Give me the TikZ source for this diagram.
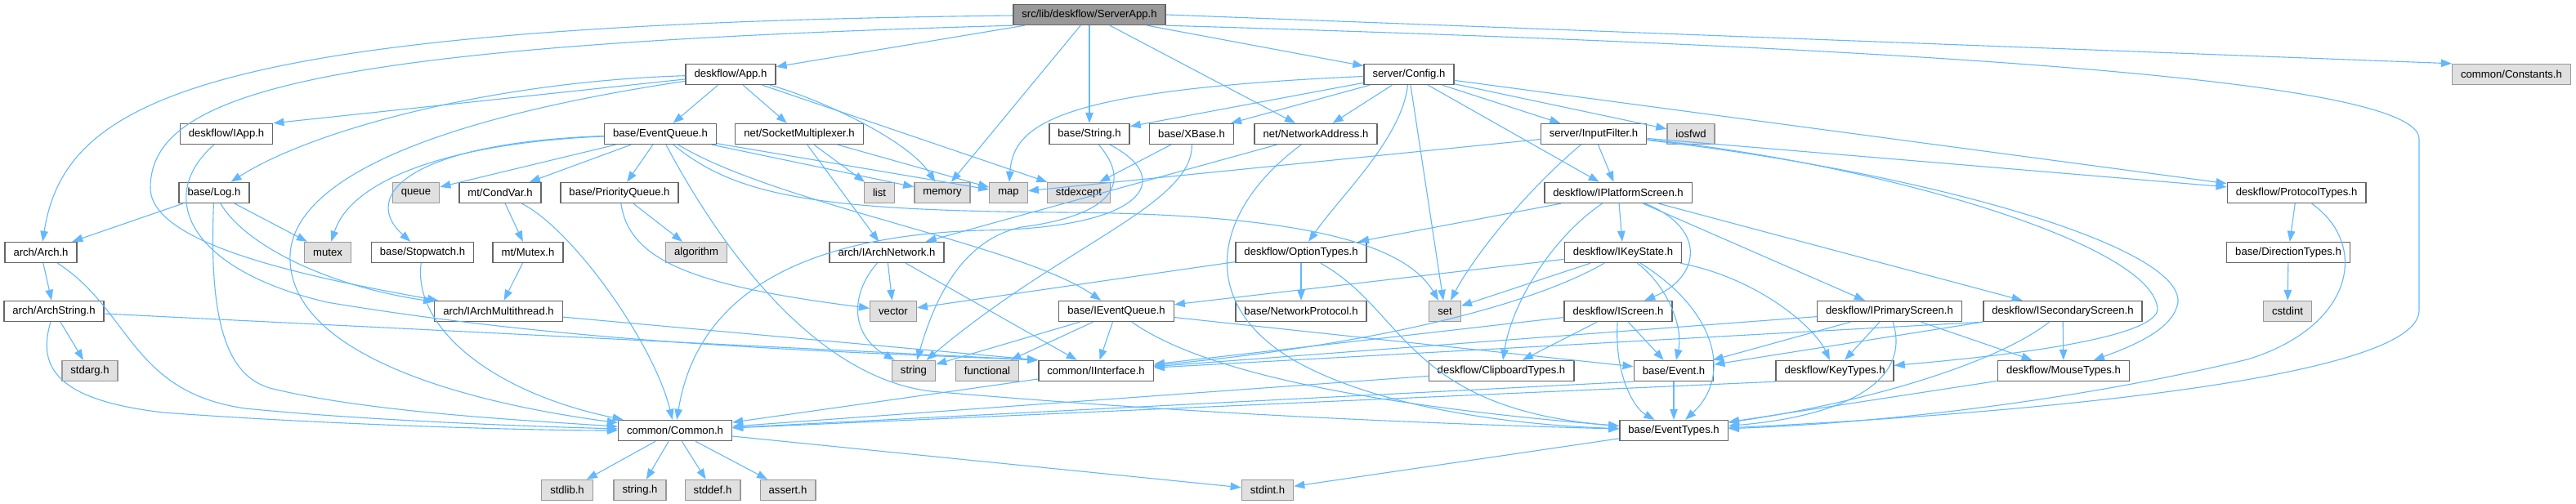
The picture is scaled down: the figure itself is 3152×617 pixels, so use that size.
\documentclass[tikz,border=0pt]{standalone}
\usepackage{fontspec}
\setmainfont{Liberation Sans}
\usetikzlibrary{arrows.meta}
\definecolor{edgeblue}{HTML}{63B8FF}
\definecolor{boxline}{HTML}{666666}
\definecolor{sysline}{HTML}{999999}
\definecolor{sysfill}{HTML}{E0E0E0}
\definecolor{rootfill}{HTML}{999999}
\tikzset{
  filebox/.style={draw=boxline, line width=1.4pt, fill=white, minimum height=25pt,
    inner xsep=10.5pt, inner ysep=0pt, font=\fontsize{13.1}{15}\selectfont},
  sysbox/.style={filebox, draw=sysline, fill=sysfill},
  rootbox/.style={filebox, fill=rootfill},
  incarrow/.style={draw=edgeblue, line width=1.1pt, -{Triangle[length=13pt,width=9.5pt]}}
}
\begin{document}
\begin{tikzpicture}[x=1pt,y=-1pt]
  \useasboundingbox (0,0) rectangle (3152,617);

  % Root and first level
  \node[rootbox] (serverapp) at (1333,18) {src/lib/deskflow/ServerApp.h};
  \node[filebox] (app) at (894,91) {deskflow/App.h};
  \node[filebox] (config) at (1724,91) {server/Config.h};
  \node[sysbox] (constants) at (3073,91) {common/Constants.h};

  % Row 2
  \node[filebox] (iapp) at (277,164) {deskflow/IApp.h};
  \node[filebox] (eventqueue) at (808,164) {base/EventQueue.h};
  \node[filebox] (socketmux) at (978,164) {net/SocketMultiplexer.h};
  \node[filebox] (strh) at (1333,164) {base/String.h};
  \node[filebox] (xbase) at (1458,164) {base/XBase.h};
  \node[filebox] (netaddr) at (1610,164) {net/NetworkAddress.h};
  \node[filebox] (inputfilter) at (1950,164) {server/InputFilter.h};
  \node[sysbox] (iosfwd) at (2069,164) {iosfwd};

  % Row 3
  \node[filebox] (log) at (262,236) {base/Log.h};
  \node[sysbox] (queue) at (509,236) {queue};
  \node[filebox] (condvar) at (612,236) {mt/CondVar.h};
  \node[filebox] (prioqueue) at (758,236) {base/PriorityQueue.h};
  \node[sysbox] (list) at (1076,236) {list};
  \node[sysbox] (memory) at (1153,236) {memory};
  \node[sysbox] (map) at (1234,236) {map};
  \node[sysbox] (stdexcept) at (1320,236) {stdexcept};
  \node[filebox] (iplatform) at (1980,236) {deskflow/IPlatformScreen.h};
  \node[filebox] (protocol) at (2810,236) {deskflow/ProtocolTypes.h};

  % Row 4
  \node[filebox] (arch) at (50,309) {arch/Arch.h};
  \node[sysbox] (mutex) at (401,309) {mutex};
  \node[filebox] (stopwatch) at (517,309) {base/Stopwatch.h};
  \node[filebox] (mtmutex) at (646,309) {mt/Mutex.h};
  \node[sysbox] (algorithm) at (852,309) {algorithm};
  \node[filebox] (iarchnet) at (1085,309) {arch/IArchNetwork.h};
  \node[filebox] (optiontypes) at (1592,309) {deskflow/OptionTypes.h};
  \node[filebox] (ikeystate) at (1986,309) {deskflow/IKeyState.h};
  \node[filebox] (direction) at (2800,309) {base/DirectionTypes.h};

  % Row 5
  \node[filebox] (archstring) at (66,381) {arch/ArchString.h};
  \node[filebox] (iarchmt) at (610,381) {arch/IArchMultithread.h};
  \node[sysbox] (vector) at (1093,381) {vector};
  \node[filebox] (ieventqueue) at (1366,381) {base/IEventQueue.h};
  \node[filebox] (netproto) at (1592,381) {base/NetworkProtocol.h};
  \node[sysbox] (set) at (1768,381) {set};
  \node[filebox] (iscreen) at (1980,381) {deskflow/IScreen.h};
  \node[filebox] (iprimary) at (2312,381) {deskflow/IPrimaryScreen.h};
  \node[filebox] (isecondary) at (2524,381) {deskflow/ISecondaryScreen.h};
  \node[sysbox] (cstdint) at (2799,381) {cstdint};

  % Row 6
  \node[sysbox] (stdarg) at (110,454) {stdarg.h};
  \node[sysbox] (stdstr) at (1118,454) {string};
  \node[sysbox] (functional) at (1208,454) {functional};
  \node[filebox] (iinterface) at (1341,454) {common/IInterface.h};
  \node[filebox] (clipboard) at (1837,454) {deskflow/ClipboardTypes.h};
  \node[filebox] (event) at (2048,454) {base/Event.h};
  \node[filebox] (keytypes) at (2245,454) {deskflow/KeyTypes.h};
  \node[filebox] (mousetypes) at (2525,454) {deskflow/MouseTypes.h};

  % Rows 7 and 8
  \node[filebox] (common) at (826,527) {common/Common.h};
  \node[filebox] (eventtypes) at (2048,527) {base/EventTypes.h};
  \node[sysbox] (stdlib) at (694,600) {stdlib.h};
  \node[sysbox] (stringh) at (783,600) {string.h};
  \node[sysbox] (stddef) at (872,600) {stddef.h};
  \node[sysbox] (asserth) at (964,600) {assert.h};
  \node[sysbox] (stdint) at (1551,600) {stdint.h};

  % ServerApp.h includes
  \draw[incarrow] (serverapp) .. controls (250,30) and (80,120) .. (arch);
  \draw[incarrow] (serverapp.south west) .. controls (400,55) and (184,110) .. (184,230)
    .. controls (184,300) and (380,340) .. (iarchmt);
  \draw[incarrow] (serverapp) -- (app);
  \draw[incarrow] (serverapp) -- (memory);
  \draw[incarrow] (serverapp) -- (strh);
  \draw[incarrow] (serverapp) -- (netaddr);
  \draw[incarrow] (serverapp) -- (config);
  \draw[incarrow] (serverapp.east) -- (constants.north west);
  \draw[incarrow] (serverapp.south east) .. controls (2400,60) and (2960,100) .. (2960,170)
    -- (2960,380) .. controls (2960,470) and (2400,510) .. (eventtypes);

  % App.h and IApp.h
  \draw[incarrow] (app) -- (iapp.north east);
  \draw[incarrow] (app) .. controls (600,100) and (380,160) .. (log);
  \draw[incarrow] (app) .. controls (500,150) and (350,230) .. (355,320)
    .. controls (360,430) and (550,490) .. (common);
  \draw[incarrow] (app) -- (eventqueue);
  \draw[incarrow] (app) -- (socketmux);
  \draw[incarrow] (app) .. controls (1000,120) and (1110,170) .. (memory);
  \draw[incarrow] (app) -- (stdexcept);
  \draw[incarrow] (iapp) .. controls (190,240) and (230,330) .. (400,370)
    .. controls (700,420) and (1000,430) .. (iinterface.north west);

  % Log.h, Arch.h, ArchString.h
  \draw[incarrow] (log) -- (arch);
  \draw[incarrow] (log) -- (mutex);
  \draw[incarrow] (log) .. controls (255,400) and (280,460) .. (330,475)
    .. controls (450,505) and (650,515) .. (common);
  \draw[incarrow] (log) .. controls (300,300) and (400,350) .. (iarchmt);
  \draw[incarrow] (arch) -- (archstring);
  \draw[incarrow] (arch) .. controls (160,380) and (160,480) .. (300,500)
    .. controls (450,515) and (650,522) .. (common);
  \draw[incarrow] (archstring) -- (stdarg);
  \draw[incarrow] (archstring) .. controls (45,450) and (70,490) .. (200,505)
    .. controls (400,520) and (650,527) .. (common);
  \draw[incarrow] (archstring) -- (iinterface.north west);

  % EventQueue.h
  \draw[incarrow] (eventqueue) .. controls (550,175) and (430,220) .. (mutex);
  \draw[incarrow] (eventqueue) .. controls (500,175) and (440,240) .. (stopwatch);
  \draw[incarrow] (eventqueue) -- (queue);
  \draw[incarrow] (eventqueue) -- (condvar);
  \draw[incarrow] (eventqueue) -- (prioqueue);
  \draw[incarrow] (eventqueue) -- (memory);
  \draw[incarrow] (eventqueue) -- (map);
  \draw[incarrow] (eventqueue) .. controls (900,240) and (1000,258) .. (1300,260)
    .. controls (1600,262) and (1720,300) .. (set);
  \draw[incarrow] (eventqueue) .. controls (950,250) and (1250,300) .. (ieventqueue);
  \draw[incarrow] (eventqueue) .. controls (880,300) and (1000,470) .. (1150,480)
    .. controls (1500,510) and (1800,520) .. (eventtypes);

  % SocketMultiplexer.h, String.h, XBase.h, NetworkAddress.h
  \draw[incarrow] (socketmux) -- (list);
  \draw[incarrow] (socketmux) -- (map);
  \draw[incarrow] (socketmux) -- (iarchnet);
  \draw[incarrow] (strh) .. controls (1390,230) and (1350,265) .. (1250,278)
    .. controls (1170,295) and (1140,380) .. (stdstr);
  \draw[incarrow] (strh) .. controls (1440,220) and (1400,280) .. (1200,282)
    .. controls (950,290) and (850,380) .. (common);
  \draw[incarrow] (xbase) -- (stdexcept);
  \draw[incarrow] (xbase) .. controls (1460,250) and (1300,300) .. (stdstr);
  \draw[incarrow] (netaddr) -- (iarchnet);
  \draw[incarrow] (netaddr) .. controls (1480,260) and (1460,380) .. (1600,450)
    .. controls (1700,500) and (1850,520) .. (eventtypes);

  % Config.h and InputFilter.h
  \draw[incarrow] (config) .. controls (1300,110) and (1240,150) .. (map);
  \draw[incarrow] (config) -- (strh);
  \draw[incarrow] (config) -- (xbase);
  \draw[incarrow] (config) -- (netaddr);
  \draw[incarrow] (config) .. controls (1715,170) and (1640,240) .. (optiontypes);
  \draw[incarrow] (config) -- (set);
  \draw[incarrow] (config) -- (iplatform);
  \draw[incarrow] (config) -- (inputfilter);
  \draw[incarrow] (config) -- (iosfwd);
  \draw[incarrow] (config) -- (protocol);
  \draw[incarrow] (inputfilter) -- (map);
  \draw[incarrow] (inputfilter) .. controls (1860,240) and (1800,320) .. (set);
  \draw[incarrow] (inputfilter) -- (iplatform);
  \draw[incarrow] (inputfilter) -- (protocol);
  \draw[incarrow] (inputfilter) .. controls (2300,200) and (2640,300) .. (2640,380)
    .. controls (2630,420) and (2400,440) .. (keytypes);
  \draw[incarrow] (inputfilter) .. controls (2350,210) and (2670,300) .. (2665,370)
    .. controls (2660,400) and (2620,420) .. (mousetypes);

  % IPlatformScreen.h and OptionTypes.h
  \draw[incarrow] (iplatform) -- (optiontypes);
  \draw[incarrow] (iplatform) .. controls (1900,290) and (1850,370) .. (clipboard);
  \draw[incarrow] (iplatform) -- (ikeystate);
  \draw[incarrow] (iplatform) .. controls (2090,280) and (2080,340) .. (iscreen);
  \draw[incarrow] (iplatform) -- (iprimary);
  \draw[incarrow] (iplatform) -- (isecondary);
  \draw[incarrow] (optiontypes) -- (vector);
  \draw[incarrow] (optiontypes) -- (netproto);
  \draw[incarrow] (optiontypes) .. controls (1720,380) and (1720,500) .. (eventtypes);

  % IArchNetwork.h, IKeyState.h, IEventQueue.h
  \draw[incarrow] (iarchnet) -- (vector);
  \draw[incarrow] (iarchnet) .. controls (1040,360) and (1040,410) .. (stdstr);
  \draw[incarrow] (iarchnet) -- (iinterface);
  \draw[incarrow] (ikeystate) -- (ieventqueue);
  \draw[incarrow] (ikeystate) -- (set);
  \draw[incarrow] (ikeystate) .. controls (1880,370) and (1700,420) .. (iinterface);
  \draw[incarrow] (ikeystate) .. controls (2040,350) and (2060,400) .. (event);
  \draw[incarrow] (ikeystate) .. controls (2100,380) and (2120,460) .. (eventtypes);
  \draw[incarrow] (ikeystate) .. controls (2150,340) and (2220,400) .. (keytypes);
  \draw[incarrow] (ieventqueue) -- (stdstr);
  \draw[incarrow] (ieventqueue) -- (functional);
  \draw[incarrow] (ieventqueue) -- (iinterface);
  \draw[incarrow] (ieventqueue) -- (event);
  \draw[incarrow] (ieventqueue) .. controls (1450,440) and (1600,490) .. (eventtypes);

  % Screen interfaces
  \draw[incarrow] (iscreen) -- (iinterface);
  \draw[incarrow] (iscreen) -- (clipboard);
  \draw[incarrow] (iscreen) -- (event);
  \draw[incarrow] (iscreen) .. controls (1975,460) and (2000,500) .. (eventtypes);
  \draw[incarrow] (iprimary) -- (iinterface);
  \draw[incarrow] (iprimary) -- (event);
  \draw[incarrow] (iprimary) -- (keytypes);
  \draw[incarrow] (iprimary) .. controls (2340,470) and (2250,510) .. (eventtypes);
  \draw[incarrow] (iprimary) -- (mousetypes);
  \draw[incarrow] (isecondary.south west) -- (iinterface);
  \draw[incarrow] (isecondary.south west) -- (event);
  \draw[incarrow] (isecondary) .. controls (2450,440) and (2300,490) .. (eventtypes);
  \draw[incarrow] (isecondary) -- (mousetypes);

  % Type headers
  \draw[incarrow] (clipboard) -- (common);
  \draw[incarrow] (event.south west) -- (common);
  \draw[incarrow] (event) -- (eventtypes);
  \draw[incarrow] (keytypes.south west) -- (common);
  \draw[incarrow] (mousetypes) -- (eventtypes);
  \draw[incarrow] (protocol) -- (direction);
  \draw[incarrow] (protocol) .. controls (2900,300) and (2880,400) .. (2750,440)
    .. controls (2500,500) and (2250,520) .. (eventtypes);
  \draw[incarrow] (direction) -- (cstdint);

  % Threading and containers
  \draw[incarrow] (condvar) -- (mtmutex);
  \draw[incarrow] (condvar) .. controls (700,280) and (800,420) .. (common);
  \draw[incarrow] (mtmutex) -- (iarchmt);
  \draw[incarrow] (stopwatch) .. controls (505,400) and (600,480) .. (common);
  \draw[incarrow] (prioqueue) -- (algorithm);
  \draw[incarrow] (prioqueue) .. controls (770,320) and (850,350) .. (vector);
  \draw[incarrow] (iarchmt) -- (iinterface.north west);
  \draw[incarrow] (iinterface) -- (common);

  % Common.h and EventTypes.h
  \draw[incarrow] (common) -- (stdlib);
  \draw[incarrow] (common) -- (stringh);
  \draw[incarrow] (common) -- (stddef);
  \draw[incarrow] (common) -- (asserth);
  \draw[incarrow] (common) -- (stdint);
  \draw[incarrow] (eventtypes) -- (stdint);
\end{tikzpicture}
\end{document}
